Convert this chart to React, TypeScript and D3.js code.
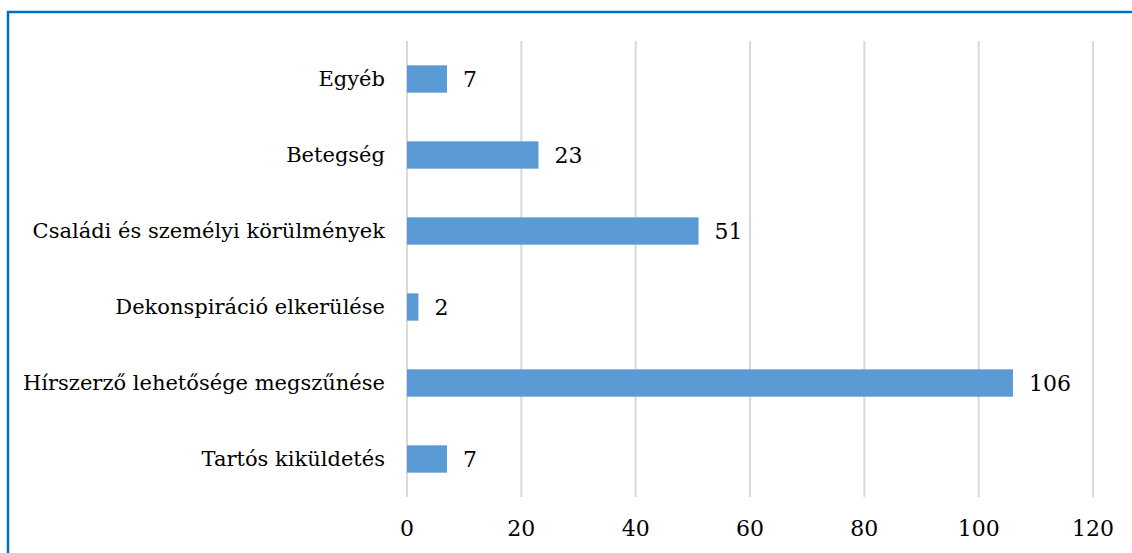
import React from "react";
import * as d3 from "d3";

const categories = [
    "Egyéb",
    "Betegség",
    "Családi és személyi körülmények",
    "Dekonspiráció elkerülése",
    "Hírszerző lehetősége megszűnése",
    "Tartós kiküldetés",
];
const values = [7, 23, 51, 2, 106, 7];
const ticks = [0, 20, 40, 60, 80, 100, 120];

const width = 1132;
const height = 553;
const plot = { left: 407, right: 1093, top: 41, bottom: 497 };
// only DejaVu Serif resolves as a serif face here
const font = "DejaVu Serif";

export default function App() {
    const xScale = d3.scaleLinear().domain([0, 120]).range([plot.left, plot.right]);
    const yScale = d3.scaleBand<string>()
        .domain(categories)
        .range([plot.top, plot.bottom])
        .padding(0);
    const barH = yScale.bandwidth() * 0.36;

    return (
        <div style={{ position: "absolute", left: 0, top: 0 }}>
            <svg width={width} height={height} style={{ display: "block", background: "#fff" }}>
                <rect x={8} y={12} width={1140} height={560} fill="none" stroke="#0070C0" strokeWidth={2.5} />
                {ticks.map(t => (
                    <line key={"g" + t} x1={xScale(t)} x2={xScale(t)} y1={plot.top} y2={plot.bottom}
                        stroke="#d9d9d9" strokeWidth={2} />
                ))}
                {categories.map((c, i) => {
                    const cy = (yScale(c) as number) + yScale.bandwidth() / 2;
                    return (
                        <g key={c}>
                            <rect x={xScale(0)} y={cy - barH / 2} width={xScale(values[i]) - xScale(0)} height={barH}
                                fill="#5B9BD5" />
                            <text x={385} y={cy} textAnchor="end" dominantBaseline="central"
                                style={{ fontFamily: font }} fontSize={21} fill="#000">{c}</text>
                            <text x={xScale(values[i]) + 16} y={cy} dominantBaseline="central"
                                style={{ fontFamily: font }} fontSize={22} fill="#000">{values[i]}</text>
                        </g>
                    );
                })}
                {ticks.map(t => (
                    <text key={"t" + t} x={xScale(t)} y={528} textAnchor="middle" dominantBaseline="central"
                        style={{ fontFamily: font }} fontSize={22} fill="#000">{t}</text>
                ))}
            </svg>
        </div>
    );
}
